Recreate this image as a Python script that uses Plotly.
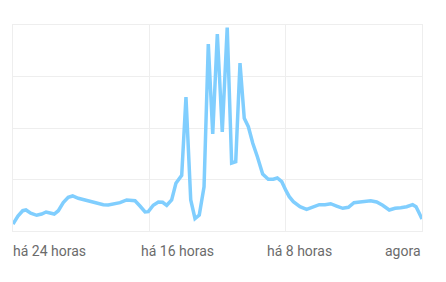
import plotly.graph_objects as go

# hours relative to now
hours = [-24.00, -23.71, -23.43, -23.24, -22.96, -22.61, -22.32, -22.06, -21.83, -21.58,
         -21.34, -21.05, -20.76, -20.50, -20.17, -19.78, -19.38, -19.05, -18.70, -18.41,
         -18.11, -17.72, -17.33, -17.03, -16.84, -16.55, -16.25, -16.06, -15.77, -15.47,
         -15.22, -14.98, -14.69, -14.44, -14.10, -13.85, -13.57, -13.32, -13.07, -12.79,
         -12.54, -12.28, -12.01, -11.72, -11.43, -11.17, -10.93, -10.68, -10.43, -10.19,
         -9.93, -9.66, -9.35, -9.02, -8.73, -8.49, -8.23, -7.98, -7.79, -7.55,
         -7.16, -6.77, -6.38, -6.03, -5.69, -5.36, -5.01, -4.65, -4.32, -3.99,
         -3.64, -3.29, -3.01, -2.66, -2.31, -1.92, -1.58, -1.25, -0.90, -0.55,
         -0.35, -0.16, 0.00]

values = [0.136, 0.291, 0.394, 0.408, 0.344, 0.305, 0.330, 0.369, 0.350, 0.330,
          0.394, 0.550, 0.654, 0.680, 0.635, 0.602, 0.577, 0.550, 0.511, 0.505,
          0.524, 0.550, 0.602, 0.602, 0.588, 0.485, 0.369, 0.375, 0.499, 0.563,
          0.557, 0.499, 0.602, 0.926, 1.082, 2.600, 0.602, 0.243, 0.311, 0.860,
          3.631, 1.883, 3.825, 1.922, 3.951, 1.320, 1.346, 3.262, 2.188, 2.025,
          1.703, 1.443, 1.107, 1.004, 1.004, 1.029, 0.957, 0.783, 0.666, 0.569,
          0.472, 0.421, 0.460, 0.511, 0.511, 0.530, 0.485, 0.441, 0.460, 0.550,
          0.563, 0.577, 0.588, 0.563, 0.499, 0.408, 0.441, 0.452, 0.472, 0.511,
          0.472, 0.344, 0.233]

tick_hours = [-24, -16, -8, 0]
tick_labels = ["há 24 horas", "há 16 horas", "há 8 horas", "agora"]
label_pos = [0.0, 0.313, 0.621, 1.0]
label_anchor = ["left", "left", "left", "right"]

fig = go.Figure()
fig.add_trace(go.Scatter(
    x=hours, y=values, mode="lines",
    line=dict(color="#80cefe", width=3.5),
    hoverinfo="skip",
))

for lab, px, anc in zip(tick_labels, label_pos, label_anchor):
    fig.add_annotation(
        x=px, y=-0.097, xref="paper", yref="paper",
        text=lab, showarrow=False, xanchor=anc, yanchor="middle",
        xshift=-2 if anc == "left" else 1,
        font=dict(family="Roboto", size=14, color="#6b6b6b"),
    )

axis_style = dict(showticklabels=False, showgrid=True, gridcolor="#eeeeee",
                  gridwidth=1, zeroline=False, showline=True, mirror=True,
                  linecolor="#eeeeee", linewidth=1, fixedrange=True)

fig.update_layout(
    width=446, height=282,
    margin=dict(l=13, r=24, t=25, b=51),
    paper_bgcolor="white", plot_bgcolor="white",
    showlegend=False,
    xaxis=dict(range=[-24, 0], tickvals=tick_hours, **axis_style),
    yaxis=dict(range=[0, 4], tickvals=[0, 1, 2, 3, 4], **axis_style),
)

fig.write_html("out.html", config={"displayModeBar": False})
